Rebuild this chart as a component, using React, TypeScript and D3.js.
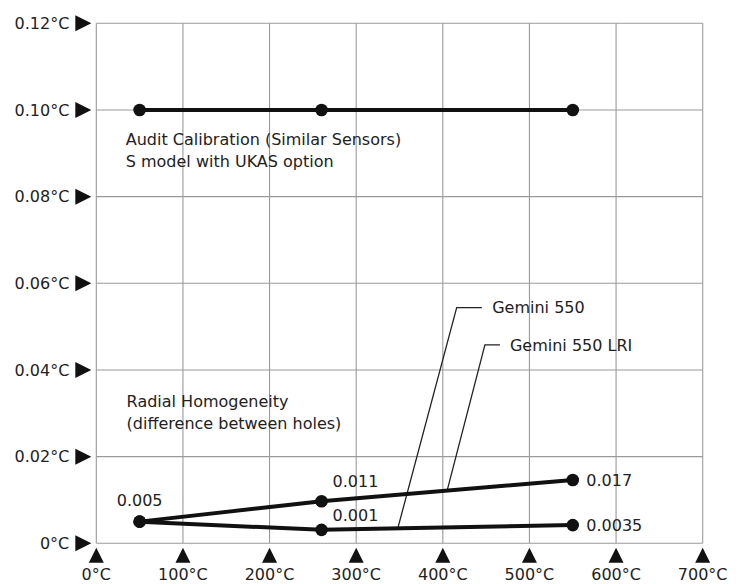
import React from "react";
import * as d3 from "d3";

// ---- data ----
const xTicks = [0, 100, 200, 300, 400, 500, 600, 700];
const xTickLabels = ["0°C", "100°C", "200°C", "300°C", "400°C", "500°C", "600°C", "700°C"];
const yTicks = [0, 0.02, 0.04, 0.06, 0.08, 0.1, 0.12];
const yTickLabels = ["0°C", "0.02°C", "0.04°C", "0.06°C", "0.08°C", "0.10°C", "0.12°C"];

const temps = [50, 260, 550];
const auditValues = [0.1, 0.1, 0.1];
const lriValues = [0.005, 0.0097, 0.0146];
const g550Values = [0.005, 0.0031, 0.0042];
const lriLabels = ["0.005", "0.011", "0.017"];
const g550Labels = ["", "0.001", "0.0035"];

const W = 741;
const H = 584;
const FONT = "'DejaVu Sans', Verdana, sans-serif";
const TEXT = "#222";

export default function App() {
  const x = d3.scaleLinear().domain([0, 700]).range([96.3, 702.7]);
  const y = d3.scaleLinear().domain([0, 0.12]).range([543.3, 23.3]);
  const line = d3
    .line<[number, number]>()
    .x((d) => x(d[0]))
    .y((d) => y(d[1]));

  const seriesPts = (vals: number[]) => temps.map((t, i) => [t, vals[i]] as [number, number]);
  const interp = (vals: number[], t: number) => d3.scaleLinear().domain(temps).range(vals)(t);

  // leader annotations (data coords)
  const leaders = [
    { label: "Gemini 550", vals: g550Values, endX: 348, elbowX: 416, elbowY: 0.0544, hEndX: 445, textX: 457 },
    { label: "Gemini 550 LRI", vals: lriValues, endX: 405, elbowX: 448.6, elbowY: 0.0458, hEndX: 466, textX: 477.5 },
  ];

  return (
    <svg
      width={W}
      height={H}
      style={{ position: "absolute", left: 0, top: 0, background: "#fff" }}
      fontFamily={FONT}
    >
      {/* grid */}
      <g stroke="#9a9a9a" strokeWidth={1.1}>
        {xTicks.map((t) => (
          <line key={"gx" + t} x1={x(t)} x2={x(t)} y1={y(0.12)} y2={y(0)} />
        ))}
        {yTicks.map((t) => (
          <line key={"gy" + t} x1={x(0)} x2={x(700)} y1={y(t)} y2={y(t)} />
        ))}
      </g>

      {/* y axis markers & labels */}
      {yTicks.map((t, i) => (
        <g key={"yt" + t}>
          <path
            d={`M${x(0) - 21},${y(t) - 8} L${x(0) - 5},${y(t)} L${x(0) - 21},${y(t) + 8} Z`}
            fill="#111"
          />
          <text x={x(0) - 27} y={y(t)} dy="0.36em" textAnchor="end" fontSize={16} fill={TEXT}>
            {yTickLabels[i]}
          </text>
        </g>
      ))}

      {/* x axis markers & labels */}
      {xTicks.map((t, i) => (
        <g key={"xt" + t}>
          <path
            d={`M${x(t)},${y(0) + 4.5} L${x(t) + 7.5},${y(0) + 19.5} L${x(t) - 7.5},${y(0) + 19.5} Z`}
            fill="#111"
          />
          <text x={x(t)} y={y(0) + 36.5} textAnchor="middle" fontSize={16} fill={TEXT}>
            {xTickLabels[i]}
          </text>
        </g>
      ))}

      {/* leader lines */}
      {leaders.map((l) => (
        <g key={l.label}>
          <polyline
            points={`${x(l.endX)},${y(interp(l.vals, l.endX))} ${x(l.elbowX)},${y(l.elbowY)} ${x(l.hEndX)},${y(l.elbowY)}`}
            fill="none"
            stroke="#222"
            strokeWidth={1.3}
          />
          <text x={x(l.textX)} y={y(l.elbowY)} dy="0.36em" fontSize={16} fill={TEXT}>
            {l.label}
          </text>
        </g>
      ))}

      {/* series lines */}
      <g fill="none" stroke="#111" strokeWidth={4}>
        <path d={line(seriesPts(auditValues)) || ""} />
        <path d={line(seriesPts(lriValues)) || ""} />
        <path d={line(seriesPts(g550Values)) || ""} />
      </g>
      <g fill="#111">
        {[auditValues, lriValues, g550Values].map((vals, si) =>
          temps.map((t, i) => <circle key={si + "-" + i} cx={x(t)} cy={y(vals[i])} r={6.3} />)
        )}
      </g>

      {/* value labels */}
      <g fontSize={16} fill={TEXT}>
        <text x={x(temps[0])} y={y(lriValues[0]) - 15.7} textAnchor="middle">
          {lriLabels[0]}
        </text>
        <text x={x(temps[1]) + 11} y={y(lriValues[1]) - 14}>
          {lriLabels[1]}
        </text>
        <text x={x(temps[1]) + 11} y={y(g550Values[1]) - 9}>
          {g550Labels[1]}
        </text>
        <text x={x(temps[2]) + 13.5} y={y(lriValues[2])} dy="0.36em">
          {lriLabels[2]}
        </text>
        <text x={x(temps[2]) + 13.5} y={y(g550Values[2])} dy="0.36em">
          {g550Labels[2]}
        </text>
      </g>

      {/* text annotations */}
      <g fontSize={16} fill={TEXT}>
        <text x={x(34)} y={y(0.0919)}>Audit Calibration (Similar Sensors)</text>
        <text x={x(34)} y={y(0.0919) + 22}>S model with UKAS option</text>
        <text x={x(35)} y={y(0.03146)}>Radial Homogeneity</text>
        <text x={x(35)} y={y(0.03146) + 22}>(difference between holes)</text>
      </g>
    </svg>
  );
}
